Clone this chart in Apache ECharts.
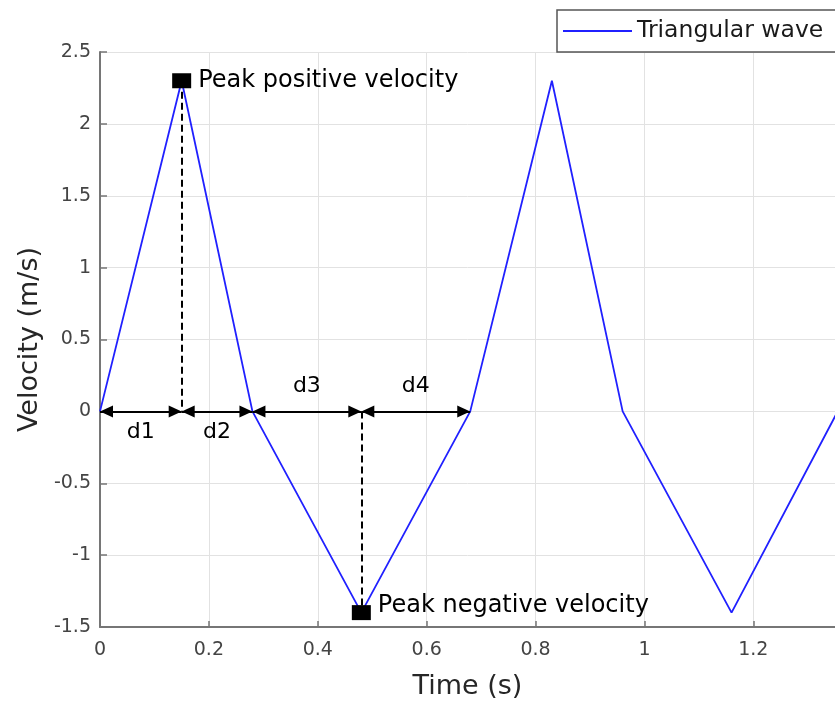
<!DOCTYPE html>
<html><head><meta charset="utf-8">
<script src="https://cdn.jsdelivr.net/npm/echarts@6/dist/echarts.min.js"></script>
<style>html,body{margin:0;padding:0;background:#fff}#c{width:835px;height:711px}</style>
</head><body><div id="c"></div>
<script>
// ---- data ----
const time = [0, 0.15, 0.28, 0.48, 0.68, 0.83, 0.96, 1.16, 1.355];
const velocity = [0, 2.3, 0, -1.4, 0, 2.3, 0, -1.4, 0];
const seriesName = 'Triangular wave';
const segBounds = [0, 0.15, 0.28, 0.48, 0.68];
const segLabels = ['d1', 'd2', 'd3', 'd4'];
const segLabelSide = ['below', 'below', 'above', 'above'];
const peakIdx = [1, 3];
const peakNames = ['Peak positive velocity', 'Peak negative velocity'];
const xRange = [0, 1.35, 0.2];
const yRange = [-1.5, 2.5, 0.5];
const xTitle = 'Time (s)';
const yTitle = 'Velocity (m/s)';

const FONT = 'DejaVu Sans';
const waveData = time.map((t, i) => [t, velocity[i]]);

// arrow head whose tip sits at the symbol centre (body extends inward)
const ARROW = 'path://M0,13 L12,13 L6,0 Z M6,-13 L6,-13';

const arrowLines = segLabels.map((lab, i) => [
  {
    coord: [segBounds[i], 0],
    label: {
      show: true, formatter: lab,
      position: segLabelSide[i] === 'below' ? 'insideMiddleBottom' : 'insideMiddleTop',
      distance: segLabelSide[i] === 'below' ? 10 : 14,
      fontFamily: FONT, fontSize: 22, color: '#000'
    }
  },
  { coord: [segBounds[i + 1], 0] }
]);

const dashLines = [
  [{ coord: [time[peakIdx[0]], velocity[peakIdx[0]]] }, { coord: [time[peakIdx[0]], 0] }],
  [{ coord: [time[peakIdx[1]], 0] }, { coord: [time[peakIdx[1]], velocity[peakIdx[1]]] }]
];

const peakData = peakIdx.map((k, i) => ({
  value: [time[k], velocity[k]],
  name: peakNames[i],
  label: { offset: i === 1 ? [0, -7] : [0, 0] }
}));

const gridColor = '#e2e2e2';
const axisColor = '#767676';

const chart = echarts.init(document.getElementById('c'), null, { renderer: 'canvas' });
chart.setOption({
  animation: false,
  backgroundColor: '#fff',
  grid: { left: 100, right: 0, top: 52, bottom: 84, containLabel: false },
  legend: {
    data: [seriesName],
    left: 557, top: 10,
    padding: [9, 14, 9, 6],
    icon: 'rect', itemWidth: 69, itemHeight: 2,
    borderColor: '#555', borderWidth: 1.5, backgroundColor: '#fff',
    textStyle: { fontFamily: FONT, fontSize: 23.5, color: '#1a1a1a' }
  },
  xAxis: {
    type: 'value', min: xRange[0], max: xRange[1], interval: xRange[2],
    name: xTitle, nameLocation: 'middle', nameGap: 46,
    nameTextStyle: { fontFamily: FONT, fontSize: 27, color: '#262626' },
    axisLine: { show: true, onZero: false, lineStyle: { color: axisColor, width: 2 } },
    axisTick: { show: true, inside: true, length: 6, lineStyle: { color: axisColor, width: 1.5 } },
    axisLabel: { fontFamily: FONT, fontSize: 19, color: '#444', margin: 14, showMaxLabel: false },
    splitLine: { show: true, lineStyle: { color: gridColor, width: 1 } }
  },
  yAxis: {
    type: 'value', min: yRange[0], max: yRange[1], interval: yRange[2],
    name: yTitle, nameLocation: 'middle', nameGap: 57,
    nameTextStyle: { fontFamily: FONT, fontSize: 27, color: '#262626' },
    axisLine: { show: true, onZero: false, lineStyle: { color: axisColor, width: 2 } },
    axisTick: { show: true, inside: true, length: 7, lineStyle: { color: axisColor, width: 1.5 } },
    axisLabel: { fontFamily: FONT, fontSize: 19, color: '#444', margin: 9, padding: [6, 0, 0, 0] },
    splitLine: { show: true, lineStyle: { color: gridColor, width: 1 } }
  },
  series: [
    {
      name: seriesName, type: 'line', data: waveData,
      showSymbol: false, symbol: 'none', clip: true,
      color: '#2020ff',
      lineStyle: { color: '#2020ff', width: 1.8 },
      z: 3
    },
    {
      name: 'annotations', type: 'line', data: [], z: 4,
      markLine: {
        silent: true, z: 4, animation: false,
        symbol: 'none',
        label: { show: false },
        lineStyle: { color: '#000', width: 2, type: [7, 4] },
        emphasis: { disabled: true },
        data: dashLines
      }
    },
    {
      name: 'arrows', type: 'line', data: [], z: 5,
      markLine: {
        silent: true, z: 5, animation: false,
        symbol: [ARROW, ARROW],
        symbolSize: [12, 26],
        lineStyle: { color: '#000', width: 2, type: 'solid' },
        itemStyle: { color: '#000' },
        emphasis: { disabled: true },
        data: arrowLines
      }
    },
    {
      name: 'peaks', type: 'scatter', data: peakData, z: 10,
      symbol: 'rect', symbolSize: [19, 15],
      itemStyle: { color: '#000', opacity: 1 },
      label: {
        show: true, position: 'right', distance: 7,
        formatter: p => p.name,
        fontFamily: FONT, fontSize: 24, color: '#000'
      },
      emphasis: { disabled: true }
    }
  ]
});
</script></body></html>
